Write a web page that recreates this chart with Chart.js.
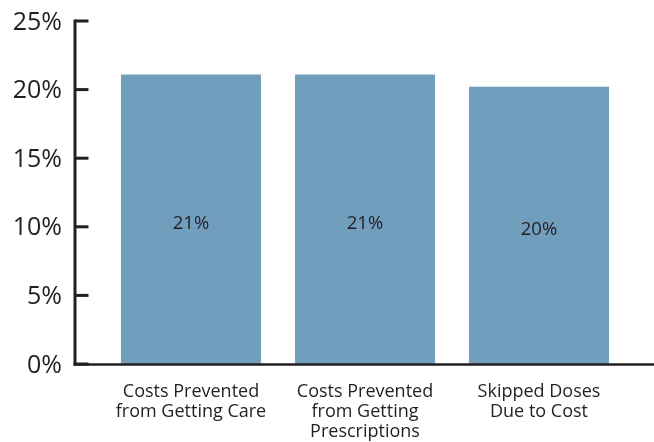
<!DOCTYPE html>
<html>
<head>
<meta charset="utf-8">
<script src="https://cdn.jsdelivr.net/npm/chart.js@4/dist/chart.umd.min.js"></script>
<style>
  html, body { margin: 0; padding: 0; background: #ffffff; }
  #wrap { width: 654px; height: 442px; position: relative; }
</style>
</head>
<body>
<div id="wrap"><canvas id="c" width="654" height="442"></canvas></div>
<script>
const categories = [
  ["Costs Prevented", "from Getting Care"],
  ["Costs Prevented", "from Getting", "Prescriptions"],
  ["Skipped Doses", "Due to Cost"]
];
const values = [21.1, 21.1, 20.2];
const valueLabels = ["21%", "21%", "20%"];
const yTicks = [0, 5, 10, 15, 20, 25];

const INK = '#231F20';
const FONT = '"Open Sans", "Noto Sans", sans-serif';

const axesPlugin = {
  id: 'customAxes',
  afterDatasetsDraw(chart) {
    const ctx = chart.ctx;
    const y = chart.scales.y;
    const axisX = 75;
    ctx.save();
    ctx.strokeStyle = INK;
    ctx.lineWidth = 3;
    ctx.lineCap = 'butt';
    ctx.beginPath();
    ctx.moveTo(axisX, y.getPixelForValue(25) - 1.5);
    ctx.lineTo(axisX, y.getPixelForValue(0) + 1.5);
    ctx.stroke();
    yTicks.forEach(v => {
      const py = y.getPixelForValue(v);
      ctx.beginPath();
      ctx.moveTo(axisX, py);
      ctx.lineTo(88.5, py);
      ctx.stroke();
    });
    ctx.lineWidth = 2.5;
    ctx.beginPath();
    const by = y.getPixelForValue(0) + 0.5;
    ctx.moveTo(axisX - 1.5, by);
    ctx.lineTo(chart.width, by);
    ctx.stroke();
    const meta = chart.getDatasetMeta(0);
    ctx.fillStyle = INK;
    ctx.font = '18.5px ' + FONT;
    ctx.textAlign = 'center';
    ctx.textBaseline = 'middle';
    meta.data.forEach((bar, i) => {
      const cy = (bar.y + bar.base) / 2 + 4.5;
      ctx.fillText(valueLabels[i], bar.x, cy);
    });
    ctx.restore();
  }
};

new Chart(document.getElementById('c'), {
  type: 'bar',
  data: {
    labels: categories,
    datasets: [{
      data: values,
      backgroundColor: '#729EBE',
      borderWidth: 0,
      categoryPercentage: 1.0,
      barPercentage: 0.805
    }]
  },
  options: {
    responsive: false,
    animation: false,
    devicePixelRatio: 1,
    layout: { padding: { top: 21, right: 28, bottom: 0, left: 0 } },
    plugins: { legend: { display: false }, tooltip: { enabled: false } },
    scales: {
      y: {
        min: 0, max: 25,
        afterFit(scale) { scale.width = 104; scale.paddingTop = 0; scale.paddingBottom = 0; },
        afterBuildTicks(scale) { scale.ticks = yTicks.map(v => ({ value: v })); },
        grid: { display: false, drawTicks: false },
        border: { display: false },
        ticks: {
          padding: 42,
          labelOffset: 1.5,
          color: INK,
          font: { family: FONT, size: 25 },
          callback: v => v + '%'
        }
      },
      x: {
        afterFit(scale) { scale.height = 78; scale.paddingLeft = 0; scale.paddingRight = 0; },
        grid: { display: false, drawTicks: false },
        border: { display: false },
        ticks: {
          padding: 18,
          color: INK,
          maxRotation: 0,
          autoSkip: false,
          font: { family: FONT, size: 18, lineHeight: 1.11 }
        }
      }
    }
  },
  plugins: [axesPlugin]
});
</script>
</body>
</html>
